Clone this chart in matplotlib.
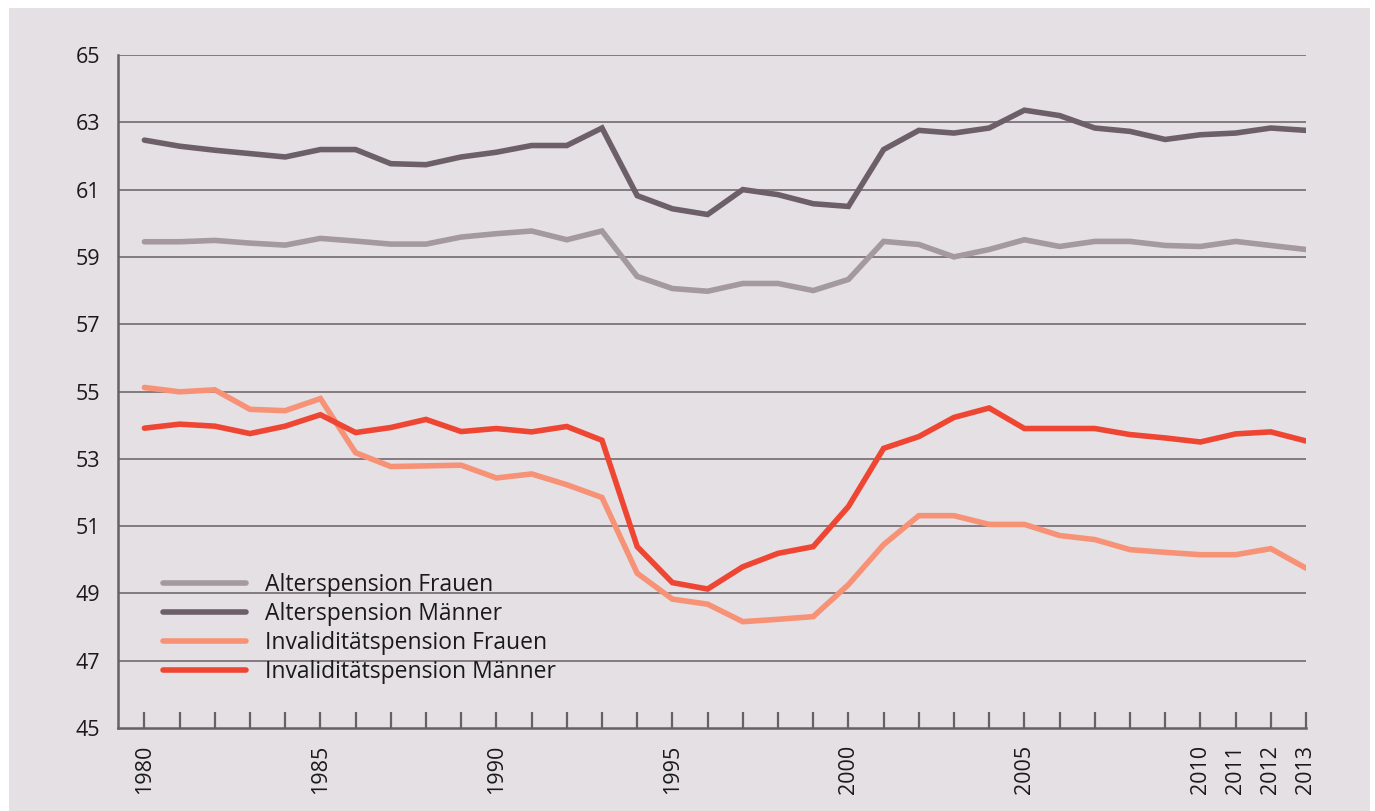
import matplotlib
matplotlib.use("Agg")
import matplotlib.pyplot as plt
from matplotlib.patches import Rectangle

plt.rcParams['font.family'] = ['Open Sans', 'DejaVu Sans']

years = list(range(1980, 2014))

alters_frauen = [59.45, 59.45, 59.49, 59.41, 59.35, 59.55, 59.47, 59.38, 59.38, 59.59,
                 59.69, 59.77, 59.51, 59.77, 58.42, 58.06, 57.98, 58.21, 58.21, 58.00,
                 58.33, 59.46, 59.37, 59.00, 59.22, 59.51, 59.31, 59.46, 59.46, 59.34,
                 59.31, 59.46, 59.34, 59.22]
alters_maenner = [62.47, 62.29, 62.17, 62.07, 61.97, 62.19, 62.19, 61.77, 61.74, 61.97,
                  62.11, 62.31, 62.31, 62.83, 60.82, 60.43, 60.26, 61.00, 60.85, 60.58,
                  60.50, 62.19, 62.76, 62.68, 62.83, 63.36, 63.20, 62.83, 62.73, 62.49,
                  62.63, 62.68, 62.83, 62.76]
inval_frauen = [55.12, 54.99, 55.05, 54.47, 54.43, 54.79, 53.18, 52.77, 52.79, 52.81,
                52.43, 52.55, 52.23, 51.85, 49.60, 48.83, 48.68, 48.16, 48.23, 48.31,
                49.26, 50.45, 51.31, 51.31, 51.05, 51.05, 50.72, 50.60, 50.30, 50.22,
                50.15, 50.15, 50.33, 49.75]
inval_maenner = [53.91, 54.03, 53.97, 53.75, 53.97, 54.31, 53.78, 53.93, 54.17, 53.81,
                 53.90, 53.80, 53.96, 53.55, 50.39, 49.32, 49.13, 49.79, 50.19, 50.39,
                 51.58, 53.31, 53.66, 54.23, 54.51, 53.90, 53.90, 53.90, 53.72, 53.62,
                 53.50, 53.74, 53.80, 53.53]

series_labels = ["Alterspension Frauen", "Alterspension Männer",
                 "Invaliditätspension Frauen", "Invaliditätspension Männer"]
series_colors = ["#a3999f", "#6c5f67", "#f79277", "#ef4533"]

y_ticks = [45, 47, 49, 51, 53, 55, 57, 59, 61, 63, 65]
x_labeled = [1980, 1985, 1990, 1995, 2000, 2005, 2010, 2011, 2012, 2013]
x_tick_labels = [str(y) if y in x_labeled else "" for y in years]

bg = "#e4e0e3"
axis_col = "#6a5f65"

fig = plt.figure(figsize=(13.75, 8.11), dpi=100, facecolor="white")
fig.patches.append(Rectangle((9 / 1375, 0), (1370 - 9) / 1375, (811 - 8) / 811,
                             transform=fig.transFigure, facecolor=bg,
                             edgecolor="none", zorder=-10))

ax = fig.add_axes([118 / 1375, 1 - 728 / 811, (1306 - 118) / 1375, (728 - 55) / 811])
ax.set_facecolor("none")

for vals, lab, col in zip([alters_frauen, alters_maenner, inval_frauen, inval_maenner],
                          series_labels, series_colors):
    ax.plot(years, vals, color=col, lw=4.0, label=lab, solid_capstyle="round",
            solid_joinstyle="miter", zorder=3)

ax.set_xlim(1979.25, 2013)
ax.set_ylim(45, 65)
ax.set_yticks(y_ticks)
ax.set_yticklabels([str(v) for v in y_ticks])
ax.set_xticks(years)
ax.set_xticklabels(x_tick_labels, rotation=90)

for v in y_ticks[1:]:
    ax.axhline(v, color=axis_col, lw=1.1, zorder=1)

for s in ["top", "right"]:
    ax.spines[s].set_visible(False)
for s in ["left", "bottom"]:
    ax.spines[s].set_color(axis_col)
    ax.spines[s].set_linewidth(1.8)

ax.tick_params(axis="y", length=0, pad=13, labelsize=15.5, labelcolor="#1a1a1a")
ax.tick_params(axis="x", direction="in", length=11.5, width=1.6, color=axis_col,
               pad=12, labelsize=15.5, labelcolor="#1a1a1a")

leg = ax.legend(loc="upper left", bbox_to_anchor=(0.038, 0.231), frameon=False,
                fontsize=16.5, handlelength=3.6, handletextpad=0.85,
                labelspacing=0.22, borderpad=0, borderaxespad=0)
for t in leg.get_texts():
    t.set_color("#1a1a1a")

fig.savefig("out.png", dpi=100, facecolor="white")
